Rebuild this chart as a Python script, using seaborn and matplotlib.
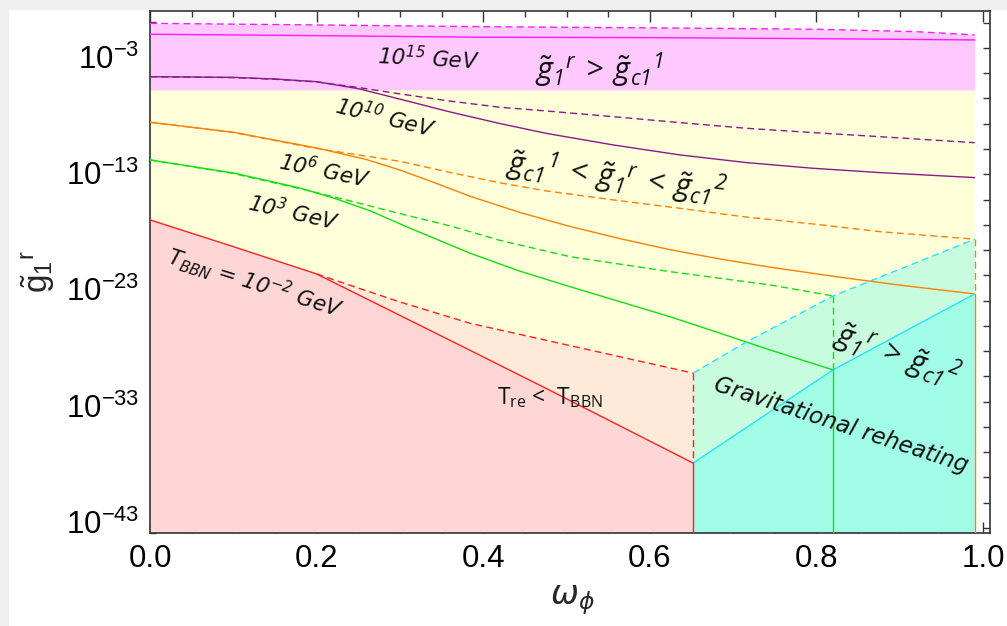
import numpy as np
import matplotlib
matplotlib.use("Agg")
import matplotlib.pyplot as plt
import seaborn as sns
from matplotlib.patches import Rectangle
from matplotlib.ticker import FixedLocator, NullFormatter

# ---------------- data (log10 of g1^r) ----------------
x_mag_d = [0, 0.2, 0.4, 0.6, 0.8, 0.92, 0.99]
L_mag_d = [-0.13, -0.27, -0.42, -0.52, -0.64, -0.85, -1.13]
x_mag_s = [0, 0.2, 0.4, 0.6, 0.8, 0.99]
L_mag_s = [-1.07, -1.19, -1.33, -1.36, -1.45, -1.56]
L_band = -5.9

x_pur = [0, 0.1, 0.15, 0.2, 0.25, 0.3, 0.36, 0.42, 0.476, 0.556, 0.636, 0.716, 0.796, 0.876, 0.99]
L_pur_s = [-4.72, -4.78, -4.92, -5.15, -5.75, -6.65, -7.75, -8.75, -9.6, -10.59, -11.45, -12.11, -12.6, -12.97, -13.40]
L_pur_d = [-4.72, -4.80, -4.94, -5.17, -5.65, -6.2, -6.82, -7.35, -7.67, -8.16, -8.67, -9.16, -9.53, -9.88, -10.40]

x_or_s = [0, 0.1, 0.2, 0.26, 0.3, 0.34, 0.384, 0.444, 0.504, 0.564, 0.624, 0.684, 0.744, 0.828, 0.9, 0.99]
L_or_s = [-8.64, -9.5, -10.85, -11.85, -12.75, -13.8, -15.0, -16.4, -17.6, -18.65, -19.6, -20.4, -21.1, -21.97, -22.65, -23.41]
x_or_d = [0, 0.1, 0.2, 0.25, 0.3, 0.36, 0.42, 0.476, 0.556, 0.636, 0.716, 0.796, 0.876, 0.99]
L_or_d = [-8.64, -9.52, -10.9, -11.45, -12.0, -12.95, -13.85, -14.55, -15.32, -16.04, -16.8, -17.39, -18.05, -18.70]

x_gr_s = [0, 0.1, 0.18, 0.22, 0.264, 0.312, 0.384, 0.444, 0.504, 0.564, 0.624, 0.684, 0.744, 0.82]
L_gr_s = [-11.88, -13.0, -14.3, -15.15, -16.25, -17.75, -19.9, -21.45, -22.78, -24.07, -25.36, -26.78, -28.22, -29.94]
x_gr_d = [0, 0.1, 0.18, 0.24, 0.3, 0.36, 0.42, 0.504, 0.624, 0.744, 0.82]
L_gr_d = [-11.88, -13.05, -14.35, -15.4, -16.5, -17.55, -18.8, -20.2, -21.49, -22.63, -23.58]

x_red_s = [0, 0.1, 0.2, 0.384, 0.48, 0.652]
L_red_s = [-17.04, -19.34, -21.69, -28.25, -31.7, -37.96]
x_red_d = [0.2, 0.25, 0.3, 0.384, 0.504, 0.624, 0.652]
L_red_d = [-21.69, -22.9, -24.1, -25.93, -27.85, -29.77, -30.22]

# cyan boundaries join the end points of the T_re curves
x_cy_s = [x_red_s[-1], x_gr_s[-1], x_or_s[-1]]
L_cy_s = [L_red_s[-1], L_gr_s[-1], L_or_s[-1]]
x_cy_d = [x_red_d[-1], 0.712, x_gr_d[-1], x_or_d[-1]]
L_cy_d = [L_red_d[-1], -27.7, L_gr_d[-1], L_or_d[-1]]

L_bottom, L_top = -44.0, 0.93
xticks = [0.0, 0.2, 0.4, 0.6, 0.8, 1.0]
ytick_exps = [-3, -13, -23, -33, -43]

# ---------------- style ----------------
sns.set_style("ticks")
plt.rcParams["font.family"] = ["Liberation Sans", "DejaVu Sans"]
plt.rcParams["mathtext.default"] = "regular"

P = lambda L: 10.0 ** np.asarray(L, dtype=float)

fig = plt.figure(figsize=(10.07, 6.26), dpi=100)
fig.patch.set_facecolor("white")
fig.patches.append(Rectangle((0, 0), 8 / 1007, 1, transform=fig.transFigure, color="#efefef", zorder=-10))
fig.patches.append(Rectangle((0, 1 - 9 / 626), 1, 9 / 626, transform=fig.transFigure, color="#efefef", zorder=-10))

ax = fig.add_axes([150 / 1007, 1 - 533.3 / 626, 840 / 1007, 522.3 / 626])
ax.set_yscale("log")
ax.set_xlim(0, 1.0084)
ax.set_ylim(10 ** L_bottom, 10 ** L_top)

C_PINK, C_YEL, C_RED, C_PEACH, C_MINT, C_AQUA = "#ffc8ff", "#ffffda", "#ffd6d6", "#ffe9d8", "#c8fcde", "#a2fde6"

# fills
ax.fill_between(x_mag_d, P(L_mag_d), 10 ** L_band, color=C_PINK, lw=0, zorder=1)
yb_x = list(x_red_s[:3]) + list(x_red_d[1:]) + list(x_cy_d[1:])
yb_L = list(L_red_s[:3]) + list(L_red_d[1:]) + list(L_cy_d[1:])
ax.fill([0, x_mag_d[-1]] + yb_x[::-1], list(P([L_band, L_band])) + list(P(yb_L[::-1])), color=C_YEL, lw=0, zorder=1)
rs_x = [v for v in x_red_s if v >= 0.2]
rs_L = [l for v, l in zip(x_red_s, L_red_s) if v >= 0.2]
ax.fill(list(x_red_d) + rs_x[::-1], list(P(L_red_d)) + list(P(rs_L[::-1])), color=C_PEACH, lw=0, zorder=1)
ax.fill(list(x_red_s) + [x_red_s[-1], x_red_s[0]], list(P(L_red_s)) + list(P([L_bottom, L_bottom])), color=C_RED, lw=0, zorder=1)
ax.fill(list(x_cy_d) + x_cy_s[::-1], list(P(L_cy_d)) + list(P(L_cy_s[::-1])), color=C_MINT, lw=0, zorder=1)
ax.fill(list(x_cy_s) + [x_cy_s[-1], x_cy_s[0]], list(P(L_cy_s)) + list(P([L_bottom, L_bottom])), color=C_AQUA, lw=0, zorder=1)

LW = 1.0
DASH = (0, (5, 3))
C_MAG, C_PUR, C_OR, C_GR, C_RD, C_CY = "#ff1aff", "#8a1a8a", "#ff8000", "#10e010", "#ff2020", "#22e5ff"

def line(x, L, c, dashed=False):
    sns.lineplot(x=list(x), y=P(L), ax=ax, color=c, lw=LW, linestyle=DASH if dashed else "-",
                 estimator=None, sort=False, zorder=3)

line(x_mag_d, L_mag_d, C_MAG, True)
line(x_mag_s, L_mag_s, C_MAG)
line(x_pur, L_pur_d, C_PUR, True)
line(x_pur, L_pur_s, C_PUR)
line(x_or_d, L_or_d, C_OR, True)
line(x_or_s, L_or_s, C_OR)
line(x_gr_d, L_gr_d, C_GR, True)
line(x_gr_s, L_gr_s, C_GR)
line(x_red_d, L_red_d, C_RD, True)
line(x_red_s, L_red_s, C_RD)
line(x_cy_d, L_cy_d, C_CY, True)
line(x_cy_s, L_cy_s, C_CY)

# vertical end segments
for xe, Ld, Ls, c in [(x_red_s[-1], L_red_d[-1], L_red_s[-1], C_RD),
                      (x_gr_s[-1], L_gr_d[-1], L_gr_s[-1], C_GR),
                      (x_or_s[-1], L_or_d[-1], L_or_s[-1], C_OR)]:
    ax.plot([xe, xe], P([Ld, Ls]), color=c, lw=LW, linestyle=DASH, zorder=3)
    ax.plot([xe, xe], P([Ls, L_bottom]), color=c, lw=LW, zorder=3)

# ---------------- axes styling ----------------
for s in ax.spines.values():
    s.set_color("#333333")
    s.set_linewidth(1.2)
ax.set_xticks(xticks)
ax.set_xticklabels(["%.1f" % v for v in xticks])
ax.xaxis.set_minor_locator(FixedLocator(np.arange(0, 1.0001, 0.05)))
ax.yaxis.set_major_locator(FixedLocator(P(ytick_exps)))
ax.set_yticklabels([r"$10^{%d}$" % e for e in ytick_exps])
ax.yaxis.set_minor_locator(FixedLocator([10.0 ** k for k in range(-44, 1) if k not in ytick_exps]))
ax.yaxis.set_minor_formatter(NullFormatter())
ax.tick_params(which="both", direction="in", top=True, right=False, color="#333333", width=1.0,
               labelsize=22.5, labelcolor="black")
ax.tick_params(which="major", length=8, pad=8)
ax.tick_params(which="minor", length=4.5)
ax.grid(False)

ax2 = ax.twinx()
ax2.set_ylim(0, 1)
ax2.set_yticks(np.linspace(0.0101, 0.9776, 21))
ax2.set_yticklabels([])
ax2.tick_params(direction="in", length=5, color="#333333", width=1.0, left=False, right=True)
for s in ax2.spines.values():
    s.set_visible(False)

# ---------------- labels ----------------
fig.text(572 / 1007, 1 - 600 / 626, r"$\omega_{\phi}$", ha="center", va="center", fontsize=24,
         family="DejaVu Sans", style="italic")
fig.text(38 / 1007, 1 - 272 / 626, r"$\tilde{g}_1{}^r$", ha="center", va="center", rotation=90,
         fontsize=24, family="Liberation Sans")

TXT = dict(family="DejaVu Sans", style="oblique", color="#111111", ha="center", va="center",
           rotation_mode="anchor", zorder=5)
ax.text(0.334, P(-3.11), r"10$^{15}$ GeV", fontsize=15.5, rotation=-3, **TXT)
ax.text(0.282, P(-8.19), r"10$^{10}$ GeV", fontsize=15.5, rotation=-14, **TXT)
ax.text(0.21, P(-12.76), r"10$^{6}$ GeV", fontsize=15.5, rotation=-12, **TXT)
ax.text(0.172, P(-16.37), r"10$^{3}$ GeV", fontsize=15.5, rotation=-13, **TXT)
ax.text(0.126, P(-22.47), r"T$_{BBN}$ = 10$^{-2}$ GeV", fontsize=15.5, rotation=-17.5, **TXT)
ax.text(0.83, P(-34.67), "Gravitational reheating", fontsize=16.5, rotation=-18, **TXT)

GT = dict(family="Open Sans", style="italic", color="#111111", ha="center", va="center",
          rotation_mode="anchor", zorder=5)
ax.text(0.54, P(-4.15), r"$\tilde{g}_1{}^r\,>\,\tilde{g}_{c1}{}^1$", fontsize=22, rotation=0, **GT)
ax.text(0.56, P(-13.45), r"$\tilde{g}_{c1}{}^1\,<\,\tilde{g}_1{}^r\,<\,\tilde{g}_{c1}{}^2$", fontsize=22,
        rotation=-7.5, **GT)
ax.text(0.897, P(-28.75), r"$\tilde{g}_1{}^r\,>\,\tilde{g}_{c1}{}^2$", fontsize=22, rotation=-20, **GT)
ax.text(0.48, P(-32.35), r"T$_{re}$ <  T$_{BBN}$", fontsize=16.5, family="Open Sans", color="#111111",
        ha="center", va="center", zorder=5)

fig.savefig("out.png", dpi=100)
